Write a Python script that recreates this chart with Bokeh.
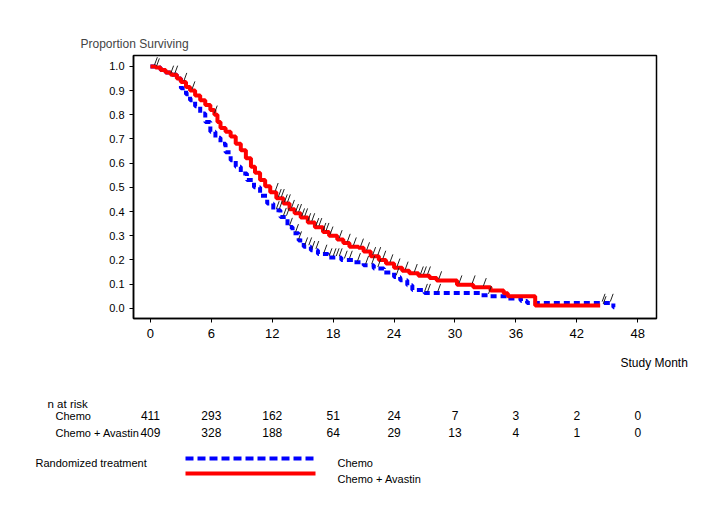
import numpy as np
from bokeh.plotting import figure
from bokeh.models import Range1d, FixedTicker, ColumnDataSource
from bokeh.layouts import column
from bokeh.core.properties import value
from bokeh.embed import file_html
from bokeh.resources import INLINE

# ---------------- data ----------------
chemo_t = [0, 0.5, 1.0, 1.5, 2.0, 2.6, 3.0, 3.5, 3.9, 4.4, 4.9, 5.4, 5.9, 6.4, 6.9, 7.4, 7.9,
           8.4, 8.9, 9.5, 10.2, 10.8, 11.5, 12.1, 12.8, 13.5, 14.0, 14.6, 15.1, 15.8, 16.5,
           17.5, 18.8, 20.0, 21.0, 22.0, 23.0, 24.0, 24.6, 25.3, 25.8, 27.0, 32.5, 33.5, 35.2,
           36.5, 37.1, 45.6, 45.7]
chemo_s = [1.0, 0.995, 0.985, 0.975, 0.965, 0.95, 0.91, 0.885, 0.86, 0.835, 0.805, 0.77, 0.73,
           0.705, 0.68, 0.645, 0.612, 0.585, 0.557, 0.53, 0.50, 0.465, 0.433, 0.405, 0.377,
           0.336, 0.31, 0.28, 0.255, 0.24, 0.225, 0.21, 0.20, 0.19, 0.178, 0.165, 0.148, 0.13,
           0.116, 0.095, 0.076, 0.063, 0.054, 0.05, 0.041, 0.03, 0.022, 0.005, 0.005]

avastin_t = [0, 0.5, 1.0, 1.5, 2.0, 2.6, 3.0, 3.5, 3.9, 4.4, 4.9, 5.4, 5.9, 6.3, 6.6, 6.9, 7.4,
             7.9, 8.4, 8.9, 9.4, 9.9, 10.3, 10.8, 11.3, 11.8, 12.4, 13.1, 13.7, 14.2, 14.8, 15.5,
             16.2, 17.0, 17.6, 18.4, 19.0, 19.6, 20.5, 21.0, 21.7, 22.5, 23.2, 24.0, 24.8, 25.5,
             26.4, 27.5, 28.2, 30.2, 31.8, 33.5, 34.8, 35.2, 37.9, 44.3]
avastin_s = [1.0, 0.995, 0.985, 0.975, 0.965, 0.95, 0.935, 0.915, 0.90, 0.88, 0.86, 0.84, 0.82,
             0.80, 0.77, 0.745, 0.73, 0.71, 0.68, 0.653, 0.62, 0.585, 0.56, 0.53, 0.505, 0.48,
             0.455, 0.433, 0.41, 0.393, 0.375, 0.355, 0.335, 0.315, 0.30, 0.285, 0.27, 0.255,
             0.25, 0.235, 0.215, 0.20, 0.185, 0.168, 0.155, 0.145, 0.135, 0.125, 0.115, 0.098,
             0.087, 0.074, 0.062, 0.05, 0.012, 0.012]

chemo_censor = [12.4, 12.7, 13.1, 13.4, 13.7, 14.3, 14.6, 15.2, 15.6, 15.9, 16.3, 17.1, 17.6,
                18.0, 18.3, 18.6, 19.1, 19.6, 20.4, 21.2, 21.8, 22.4, 24.2, 27.0, 27.3, 28.3,
                33.3, 44.5, 45.3]
avastin_censor = [0.4, 0.6, 2.0, 2.4, 3.3, 4.1, 6.3, 12.3, 12.6, 12.9, 13.2, 13.5, 13.9, 14.3,
                  14.6, 14.9, 15.2, 15.5, 15.9, 16.3, 16.6, 17.0, 17.3, 17.7, 18.6, 19.4, 20.0,
                  20.7, 21.3, 21.9, 22.4, 22.9, 23.6, 24.3, 25.1, 26.0, 26.6, 26.9, 27.3, 28.4,
                  30.4, 31.7, 32.8, 44.6]

risk_months = [0, 6, 12, 18, 24, 30, 36, 42, 48]
risk_chemo = [411, 293, 162, 51, 24, 7, 3, 2, 0]
risk_avastin = [409, 328, 188, 64, 29, 13, 4, 1, 0]

x_ticks = [0, 6, 12, 18, 24, 30, 36, 42, 48]
y_ticks = [0.0, 0.1, 0.2, 0.3, 0.4, 0.5, 0.6, 0.7, 0.8, 0.9, 1.0]

FONT = "Liberation Sans Narrow, Liberation Sans"
RED = "#FF0000"
BLUE = "#0000FF"

# ---------------- layout constants ----------------
OFF = 0
W = 693
TOP_H = 350
BOT_H = 160
BL, BR, BT, BB = 133, 37, 55, 32
XMIN, XMAX = -1.67, 49.85
YMIN, YMAX = -0.042, 1.045
frame_w = W - BL - BR
ppm = frame_w / (XMAX - XMIN)


def px2m(px_page):
    # page pixel x -> month coordinate of the lower panel
    return XMIN + (px_page - OFF - BL) / ppm


# ---------------- top figure ----------------
p = figure(width=W, height=TOP_H, output_backend="svg", toolbar_location=None,
           x_range=Range1d(XMIN, XMAX), y_range=Range1d(YMIN, YMAX))
p.frame_align = False
p.min_border_left = BL
p.min_border_right = BR
p.min_border_top = BT
p.min_border_bottom = BB
p.xgrid.visible = False
p.ygrid.visible = False
p.outline_line_color = "black"
p.outline_line_width = 1.5
p.background_fill_color = "white"
p.border_fill_color = "white"

p.title.text = "Proportion Surviving"
p.title.align = "left"
p.title.offset = 80 - BL
p.title.text_font = FONT
p.title.text_font_size = "12px"
p.title.text_font_style = "normal"
p.title.standoff = 10

for ax in (p.xaxis[0], p.yaxis[0]):
    ax.axis_line_color = "black"
    ax.axis_line_width = 1.5
    ax.major_tick_in = 0
    ax.major_tick_out = 4
    ax.minor_tick_line_color = None
    ax.major_tick_line_color = "black"
    ax.major_label_text_font = FONT
    ax.major_label_text_color = "black"

p.xaxis.ticker = FixedTicker(ticks=x_ticks)
p.yaxis.ticker = FixedTicker(ticks=y_ticks)
p.xaxis.major_label_text_font_size = "13px"
p.yaxis.major_label_text_font_size = "11px"
p.xaxis.major_label_standoff = 6
p.yaxis.major_label_standoff = 5
p.yaxis.major_label_overrides = {v: f"{v:.1f}" for v in y_ticks}

p.step(chemo_t, chemo_s, mode="after", line_color=BLUE, line_width=4, line_dash="6 4")
p.step(avastin_t, avastin_s, mode="after", line_color=RED, line_width=4)


def censor_segments(times, surv, cens):
    times = np.asarray(times)
    surv = np.asarray(surv)
    idx = np.searchsorted(times, np.asarray(cens), side="right") - 1
    s = surv[idx]
    c = np.asarray(cens)
    return dict(x0=c, y0=s + 0.006, x1=c + 0.28, y1=s + 0.038)


p.segment(source=ColumnDataSource(censor_segments(chemo_t, chemo_s, chemo_censor)),
          x0="x0", y0="y0", x1="x1", y1="y1", line_color="#222222", line_width=1)
p.segment(source=ColumnDataSource(censor_segments(avastin_t, avastin_s, avastin_censor)),
          x0="x0", y0="y0", x1="x1", y1="y1", line_color="#222222", line_width=1)

# ---------------- bottom figure (risk table + legend) ----------------
b0 = XMIN - BL / ppm
b1 = XMAX + BR / ppm
q = figure(width=W, height=BOT_H, output_backend="svg", toolbar_location=None,
           x_range=Range1d(b0, b1), y_range=Range1d(BOT_H, 0),
           x_axis_location=None, y_axis_location=None)
q.frame_align = False
q.min_border_left = 0
q.min_border_right = 0
q.min_border_top = 0
q.min_border_bottom = 0
q.xgrid.visible = False
q.ygrid.visible = False
q.outline_line_color = None

TOPQ = OFF + TOP_H  # page y of q's top


def qy(page_y):
    return page_y - TOPQ


TXT = dict(text_font=value(FONT), text_baseline="middle", text_color="black")

# Study Month
q.text(x=[px2m(620)], y=[qy(362)], text=["Study Month"], text_align="left",
       text_font_size="12px", **TXT)

# risk table
q.text(x=[px2m(47)], y=[qy(403)], text=["n at risk"], text_font_size="11.5px", **TXT)
q.text(x=[px2m(55), px2m(55)], y=[qy(415), qy(432)], text=["Chemo", "Chemo + Avastin"],
       text_font_size="11px", **TXT)
q.text(x=risk_months, y=[qy(415)] * len(risk_months), text=[str(v) for v in risk_chemo],
       text_align="center", text_font_size="12px", **TXT)
q.text(x=risk_months, y=[qy(432)] * len(risk_months), text=[str(v) for v in risk_avastin],
       text_align="center", text_font_size="12px", **TXT)

# legend
q.text(x=[px2m(35)], y=[qy(462)], text=["Randomized treatment"], text_font_size="11px", **TXT)
q.line(x=[px2m(185), px2m(315)], y=[qy(458), qy(458)], line_color=BLUE, line_width=4,
       line_dash="8 4")
q.line(x=[px2m(185), px2m(315)], y=[qy(473), qy(473)], line_color=RED, line_width=4)
q.text(x=[px2m(337), px2m(337)], y=[qy(462), qy(478)], text=["Chemo", "Chemo + Avastin"],
       text_font_size="11px", **TXT)

layout = column(p, q, spacing=0)
open("out.html", "w").write(file_html(layout, INLINE))
